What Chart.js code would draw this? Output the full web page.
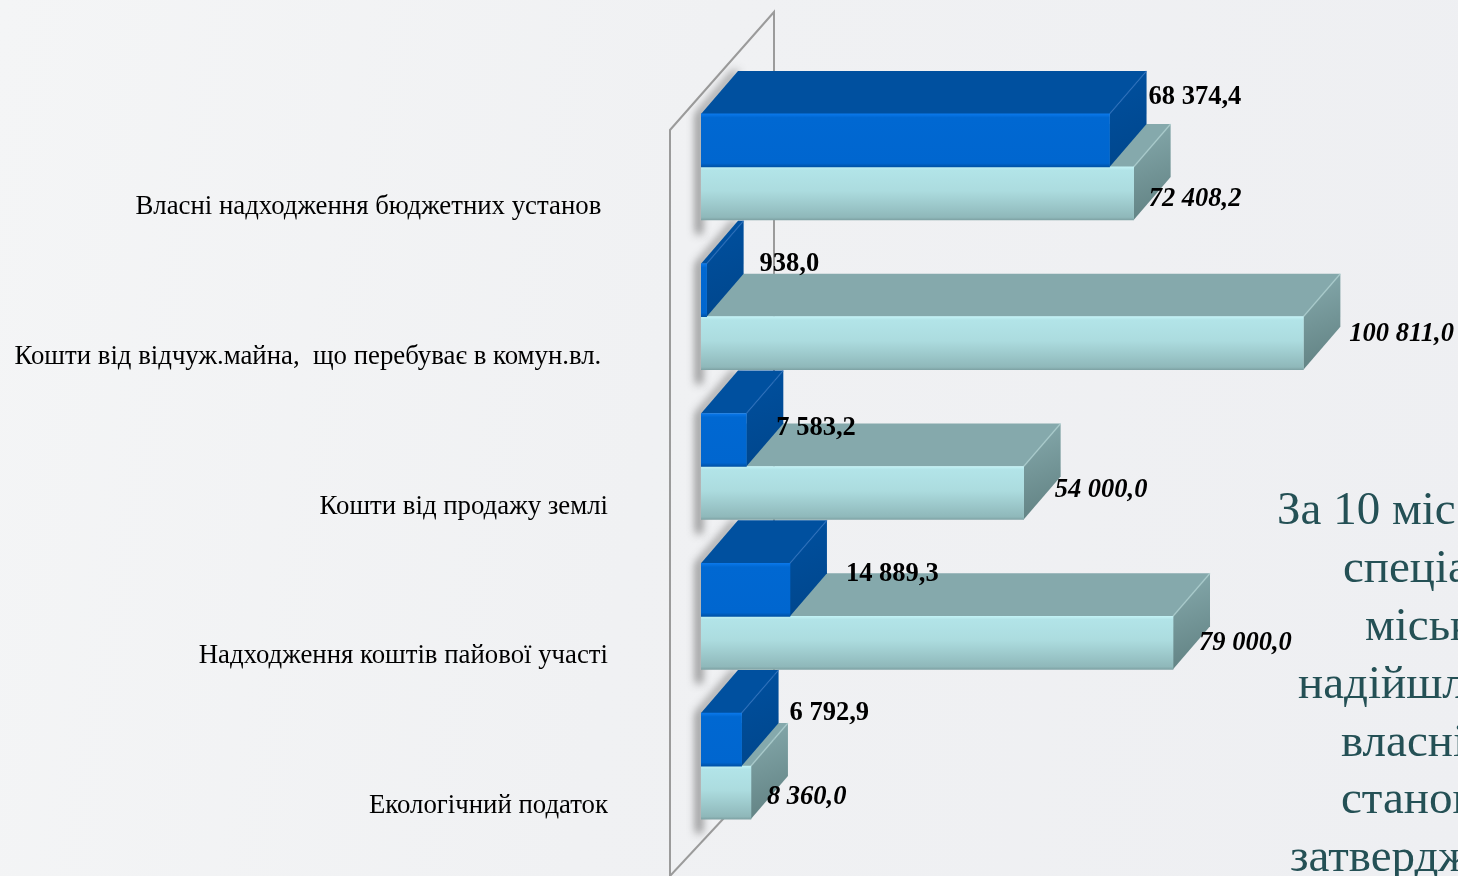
<!DOCTYPE html>
<html lang="uk">
<head>
<meta charset="utf-8">
<title>Спеціальний фонд</title>
<script src="https://cdn.jsdelivr.net/npm/chart.js@4"></script>
<style>
  html, body { margin: 0; height: 100%; overflow: hidden; }
  body { background: linear-gradient(100deg, #f4f5f6 0%, #f0f1f3 45%, #eeeff2 100%); }
  canvas { display: block; }
</style>
</head>
<body>
<canvas id="chart" width="1458" height="876"></canvas>
<script>
// Дані діаграми
const categories = [
  'Власні надходження бюджетних установ\u00a0',
  'Кошти від відчуж.майна,  що перебуває в комун.вл.\u00a0',
  'Кошти від продажу землі',
  'Надходження коштів пайової участі',
  'Екологічний податок'
];
const actualValues = [68374.4, 938.0, 7583.2, 14889.3, 6792.9];
const plannedValues = [72408.2, 100811.0, 54000.0, 79000.0, 8360.0];

// Ручні зсуви підписів значень, як на слайді
const actualShift = [[39, -43], [53, -26], [30, -12], [56, -16], [48, -26]];
const plannedShift = [[15, 6], [46, -9], [31, -3], [26, 0], [16, 5]];

// Текст праворуч, обрізаний краєм слайда
const sideLines = ['За 10 міс', 'спеціа', 'міськ', 'надійшл', 'власні', 'станов', 'затвердж'];
const sideLeft = [1277, 1343, 1365, 1298, 1341, 1341, 1290];

const DEPTH_X = 37;
const DEPTH_Y = 43;

const darkStyle = { top: '#00509f', sideA: '#00509f', sideB: '#00468c', edge: 'rgba(40,110,190,0.55)' };
const lightStyle = { top: '#85a9ac', sideA: '#86aaad', sideB: '#5f7f80', edge: 'rgba(180,215,215,0.6)' };

function formatValue(v) {
  return v.toFixed(1).replace('.', ',').replace(/\B(?=(\d{3})+(?!\d))/g, ' ');
}

function frontGradient(stops, offset) {
  return (ctx) => {
    if (ctx.dataIndex === undefined) return stops[1][1];
    const c = ctx.chart.scales.y.getPixelForValue(ctx.dataIndex);
    if (!isFinite(c)) return stops[1][1];
    const g = ctx.chart.ctx.createLinearGradient(0, c + offset, 0, c + offset + 53);
    stops.forEach(s => g.addColorStop(s[0], s[1]));
    return g;
  };
}

function polygon(c, pts) {
  c.beginPath();
  pts.forEach((p, i) => (i ? c.lineTo(p[0], p[1]) : c.moveTo(p[0], p[1])));
  c.closePath();
}

// Стінка і тінь від стовпчиків
const wallPlugin = {
  id: 'wall',
  beforeDatasetsDraw(chart) {
    const c = chart.ctx;
    c.save();
    c.strokeStyle = '#9b9b9b';
    c.lineWidth = 2;
    c.beginPath();
    c.moveTo(670, 880);
    c.lineTo(670, 130);
    c.lineTo(774, 12);
    c.lineTo(774, 770);
    c.stroke();
    c.beginPath();
    c.moveTo(670, 876);
    c.lineTo(724, 818);
    c.stroke();

    // Фігуру винесено за полотно, видно лише її тінь
    const left = chart.chartArea.left;
    const far = 3000;
    const dark = chart.getDatasetMeta(0).data;
    const light = chart.getDatasetMeta(1).data;
    dark.forEach((el, i) => {
      const top = el.y - el.height / 2;
      const bottom = light[i].y + light[i].height / 2 + 14;
      c.save();
      c.shadowColor = 'rgba(95,95,95,0.85)';
      c.shadowBlur = 8;
      c.shadowOffsetX = far - 5;
      c.fillStyle = '#000';
      polygon(c, [
        [left - far, bottom],
        [left - far, top],
        [left - far + DEPTH_X, top - DEPTH_Y],
        [left - far + DEPTH_X + 6, top - DEPTH_Y],
        [left - far + 6, top],
        [left - far + 6, bottom]
      ]);
      c.fill();
      c.restore();
    });
    c.restore();
  },
  // Об'ємні грані малюються перед кожним набором
  beforeDatasetDraw(chart, args) {
    const c = chart.ctx;
    const st = args.index === 0 ? darkStyle : lightStyle;
    c.save();
    args.meta.data.forEach(el => {
      const top = el.y - el.height / 2;
      const bottom = el.y + el.height / 2;
      polygon(c, [[el.base, top], [el.base + DEPTH_X, top - DEPTH_Y], [el.x + DEPTH_X, top - DEPTH_Y], [el.x, top]]);
      c.fillStyle = st.top;
      c.fill();
      const g = c.createLinearGradient(el.x, top - DEPTH_Y, el.x + DEPTH_X, bottom);
      g.addColorStop(0, st.sideA);
      g.addColorStop(1, st.sideB);
      polygon(c, [[el.x, top], [el.x + DEPTH_X, top - DEPTH_Y], [el.x + DEPTH_X, bottom - DEPTH_Y], [el.x, bottom]]);
      c.fillStyle = g;
      c.fill();
      c.strokeStyle = st.edge;
      c.lineWidth = 1.5;
      c.beginPath();
      c.moveTo(el.x, top);
      c.lineTo(el.x + DEPTH_X, top - DEPTH_Y);
      c.stroke();
    });
    c.restore();
  },
  afterDatasetsDraw(chart) {
    const c = chart.ctx;
    c.save();
    c.fillStyle = '#000';
    c.textBaseline = 'middle';
    c.font = 'bold 26.5px "Liberation Serif"';
    chart.getDatasetMeta(0).data.forEach((el, i) => {
      c.fillText(formatValue(actualValues[i]), el.x + actualShift[i][0], el.y + actualShift[i][1]);
    });
    c.font = 'italic bold 26.5px "Liberation Serif"';
    chart.getDatasetMeta(1).data.forEach((el, i) => {
      c.fillText(formatValue(plannedValues[i]), el.x + plannedShift[i][0], el.y + plannedShift[i][1]);
    });
    c.fillStyle = '#245055';
    c.font = '47px "Liberation Serif"';
    sideLines.forEach((t, i) => c.fillText(t, sideLeft[i], 512 + i * 57.8));
    c.restore();
  }
};

new Chart(document.getElementById('chart'), {
  type: 'bar',
  data: {
    labels: categories,
    datasets: [
      {
        label: 'Факт',
        data: actualValues,
        backgroundColor: frontGradient([[0, '#0a78ea'], [0.07, '#0068d2'], [0.93, '#0066cf'], [1, '#0052a6']], -53),
        barThickness: 53
      },
      {
        label: 'План',
        data: plannedValues,
        backgroundColor: frontGradient([[0, '#c2f2f5'], [0.06, '#b2e4e8'], [0.45, '#acdcdf'], [0.95, '#8fb8ba'], [1, '#7fa3a5']], 0),
        barThickness: 53
      }
    ]
  },
  options: {
    indexAxis: 'y',
    responsive: false,
    animation: false,
    events: [],
    layout: { padding: { top: 92, bottom: 35, right: 40 } },
    plugins: { legend: { display: false }, tooltip: { enabled: false } },
    scales: {
      x: { display: false, min: 0, max: 120000 },
      y: {
        afterFit(scale) {
          scale.width = 701;
          scale.paddingTop = 0;
          scale.paddingBottom = 0;
        },
        border: { display: false },
        grid: { display: false, drawTicks: false },
        ticks: {
          color: '#000',
          font: { family: 'Liberation Serif', size: 26.8 },
          padding: 93,
          labelOffset: 40,
          autoSkip: false,
          minRotation: 0,
          maxRotation: 0
        }
      }
    }
  },
  plugins: [wallPlugin]
});
</script>
</body>
</html>
